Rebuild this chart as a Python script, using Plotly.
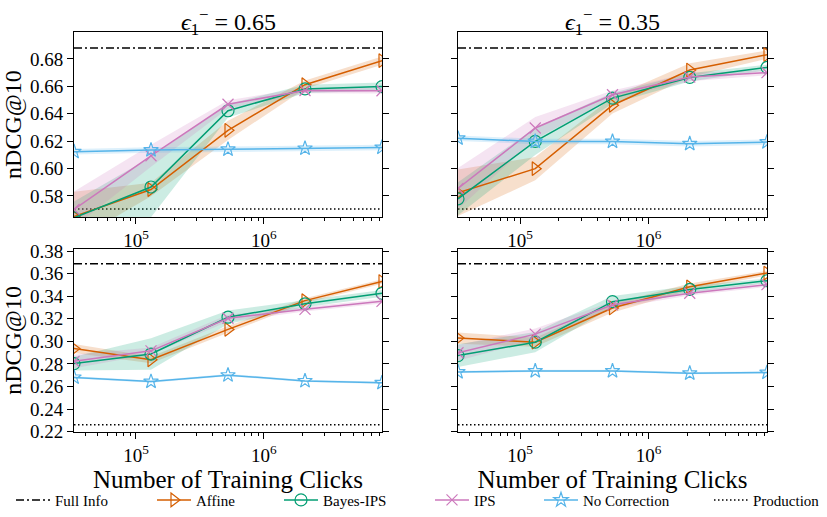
import math
import plotly.graph_objects as go

# ---------------- data ----------------
clicks = [32768, 131072, 524288, 2097152, 8388608]
x_ticks = [1e5, 1e6]
x_tick_text = ["10<sup>5</sup>", "10<sup>6</sup>"]

methods = ["Affine", "Bayes-IPS", "IPS", "No Correction"]

full_info_top = 0.688
production_top = 0.5705
full_info_bottom = 0.3688
production_bottom = 0.2262

# top-left: eps = 0.65
tl_affine = [0.5650, 0.5847, 0.6279, 0.6612, 0.6788]
tl_bayes = [0.5640, 0.5865, 0.6422, 0.6581, 0.6598]
tl_ips = [0.5702, 0.6093, 0.6469, 0.6570, 0.6568]
tl_nocorr = [0.6123, 0.6135, 0.6140, 0.6147, 0.6154]
tl_affine_sd = [0.018, 0.005, 0.007, 0.003, 0.003]
tl_bayes_sd = [0.012, 0.022, 0.005, 0.003, 0.003]
tl_ips_sd = [0.013, 0.008, 0.003, 0.002, 0.002]
tl_nocorr_sd = [0.002, 0.002, 0.002, 0.002, 0.002]

# top-right: eps = 0.35
tr_affine = [0.5823, 0.5999, 0.6462, 0.6719, 0.6831]
tr_bayes = [0.5779, 0.6198, 0.6514, 0.6665, 0.6738]
tr_ips = [0.5854, 0.6296, 0.6539, 0.6668, 0.6700]
tr_nocorr = [0.6221, 0.6198, 0.6198, 0.6181, 0.6193]
tr_affine_sd = [0.017, 0.0085, 0.006, 0.005, 0.003]
tr_bayes_sd = [0.012, 0.010, 0.004, 0.003, 0.002]
tr_ips_sd = [0.015, 0.008, 0.003, 0.003, 0.002]
tr_nocorr_sd = [0.002, 0.002, 0.002, 0.002, 0.002]

# bottom-left: eps = 0.65
bl_affine = [0.2936, 0.2837, 0.3106, 0.3361, 0.3530]
bl_bayes = [0.2803, 0.2888, 0.3214, 0.3333, 0.3426]
bl_ips = [0.2823, 0.2916, 0.3205, 0.3284, 0.3355]
bl_nocorr = [0.2681, 0.2644, 0.2701, 0.2650, 0.2633]
bl_affine_sd = [0.004, 0.003, 0.003, 0.002, 0.002]
bl_bayes_sd = [0.006, 0.014, 0.006, 0.003, 0.003]
bl_ips_sd = [0.006, 0.003, 0.003, 0.002, 0.002]
bl_nocorr_sd = [0.001, 0.001, 0.001, 0.001, 0.001]

# bottom-right: eps = 0.35
br_affine = [0.3029, 0.2993, 0.3296, 0.3483, 0.3605]
br_bayes = [0.2874, 0.2993, 0.3352, 0.3460, 0.3537]
br_ips = [0.2899, 0.3064, 0.3324, 0.3426, 0.3503]
br_nocorr = [0.2729, 0.2738, 0.2738, 0.2718, 0.2724]
br_affine_sd = [0.005, 0.004, 0.004, 0.003, 0.002]
br_bayes_sd = [0.010, 0.009, 0.005, 0.003, 0.002]
br_ips_sd = [0.007, 0.005, 0.003, 0.002, 0.002]
br_nocorr_sd = [0.001, 0.001, 0.001, 0.001, 0.001]

subplot_titles = ["<i>ϵ</i><sub>1</sub><sup>−</sup> = 0.65",
                  "<i>ϵ</i><sub>1</sub><sup>−</sup> = 0.35"]
y_title = "nDCG@10"
x_title = "Number of Training Clicks"

# ---------------- styles ----------------
FONT = "Liberation Serif, Times New Roman, serif"
colors = {"Affine": "#d55e00", "Bayes-IPS": "#029e73",
          "IPS": "#cc78bc", "No Correction": "#56b4e9"}
band_colors = {"Affine": "rgba(213,94,0,0.2)", "Bayes-IPS": "rgba(2,158,115,0.2)",
               "IPS": "rgba(204,120,188,0.2)", "No Correction": "rgba(86,180,233,0.2)"}
symbols = {"Affine": "triangle-right-open", "Bayes-IPS": "circle-open",
           "IPS": "x-thin-open", "No Correction": "star-open"}
msizes = {"Affine": 12, "Bayes-IPS": 12, "IPS": 11, "No Correction": 11}
legend_ids = {"Full Info": "legend", "Affine": "legend2", "Bayes-IPS": "legend3",
              "IPS": "legend4", "No Correction": "legend5", "Production": "legend6"}
legend_line_start_px = {"Full Info": 14, "Affine": 155, "Bayes-IPS": 282,
                        "IPS": 433, "No Correction": 542, "Production": 712}

W, H = 827, 517
col_px = [(74, 382), (458, 767)]
row_px = [(25, 218), (251, 442)]

panels = [
    (0, 0, dict(zip(methods, [tl_affine, tl_bayes, tl_ips, tl_nocorr])),
     dict(zip(methods, [tl_affine_sd, tl_bayes_sd, tl_ips_sd, tl_nocorr_sd])),
     full_info_top, production_top),
    (0, 1, dict(zip(methods, [tr_affine, tr_bayes, tr_ips, tr_nocorr])),
     dict(zip(methods, [tr_affine_sd, tr_bayes_sd, tr_ips_sd, tr_nocorr_sd])),
     full_info_top, production_top),
    (1, 0, dict(zip(methods, [bl_affine, bl_bayes, bl_ips, bl_nocorr])),
     dict(zip(methods, [bl_affine_sd, bl_bayes_sd, bl_ips_sd, bl_nocorr_sd])),
     full_info_bottom, production_bottom),
    (1, 1, dict(zip(methods, [br_affine, br_bayes, br_ips, br_nocorr])),
     dict(zip(methods, [br_affine_sd, br_bayes_sd, br_ips_sd, br_nocorr_sd])),
     full_info_bottom, production_bottom),
]

y_ranges = [[0.5645, 0.6997], [0.2197, 0.3820]]

fig = go.Figure()
layout = dict(
    width=W, height=H,
    margin=dict(l=0, r=0, t=0, b=0),
    paper_bgcolor="white", plot_bgcolor="white",
    font=dict(family=FONT, size=18, color="black"),
    showlegend=True,
)

minor_vals = [m * 10 ** e for e in range(4, 7) for m in range(2, 10)]

for idx, (r, c, series, sds, full, prod) in enumerate(panels):
    n = idx + 1
    xa = "x" if n == 1 else f"x{n}"
    ya = "y" if n == 1 else f"y{n}"
    first = idx == 0
    xr = [math.log10(clicks[0]), math.log10(clicks[-1])]
    fig.add_trace(go.Scatter(
        x=[clicks[0], clicks[-1]], y=[full, full], mode="lines",
        line=dict(color="black", width=1.5, dash="8px,3px,2px,3px"),
        name="Full Info", showlegend=first, legend=legend_ids["Full Info"],
        xaxis=xa, yaxis=ya, hoverinfo="skip"))
    fig.add_trace(go.Scatter(
        x=[clicks[0], clicks[-1]], y=[prod, prod], mode="lines",
        line=dict(color="black", width=1.5, dash="1.5px,2.5px"),
        name="Production", showlegend=first, legend=legend_ids["Production"],
        xaxis=xa, yaxis=ya, hoverinfo="skip"))
    for m in methods:
        lo = [v - s for v, s in zip(series[m], sds[m])]
        hi = [v + s for v, s in zip(series[m], sds[m])]
        fig.add_trace(go.Scatter(x=clicks, y=lo, mode="lines", line=dict(width=0),
                                 showlegend=False, xaxis=xa, yaxis=ya, hoverinfo="skip"))
        fig.add_trace(go.Scatter(x=clicks, y=hi, mode="lines", line=dict(width=0),
                                 fill="tonexty", fillcolor=band_colors[m],
                                 showlegend=False, xaxis=xa, yaxis=ya, hoverinfo="skip"))
    for m in methods:
        fig.add_trace(go.Scatter(
            x=clicks, y=series[m], mode="lines+markers", name=m,
            line=dict(color=colors[m], width=1.5),
            marker=dict(symbol=symbols[m], size=msizes[m],
                        color=colors[m], line=dict(color=colors[m], width=1.2)),
            showlegend=first, legend=legend_ids[m],
            xaxis=xa, yaxis=ya, cliponaxis=True))

    x0, x1 = col_px[c]
    y0, y1 = row_px[r]
    xkey = "xaxis" if n == 1 else f"xaxis{n}"
    ykey = "yaxis" if n == 1 else f"yaxis{n}"
    xax = dict(
        type="log", range=xr, domain=[x0 / W, x1 / W], anchor=ya,
        tickmode="array", tickvals=x_ticks, ticktext=x_tick_text,
        ticks="outside", ticklen=6, tickwidth=1, tickcolor="black",
        showline=True, linecolor="black", linewidth=1, mirror=True,
        showgrid=False, zeroline=False,
        tickfont=dict(family=FONT, size=19),
        minor=dict(tickmode="array", tickvals=minor_vals, ticks="outside",
                   ticklen=3, tickwidth=0.8, tickcolor="black", showgrid=False),
    )
    if r == 1:
        xax["title"] = dict(text=x_title, font=dict(family=FONT, size=25), standoff=0)
    yax = dict(
        range=y_ranges[r], domain=[1 - y1 / H, 1 - y0 / H], anchor=xa,
        tickmode="linear", tick0=0.0, dtick=0.02, tickformat=".2f",
        ticks="outside", ticklen=6, tickwidth=1, tickcolor="black",
        showline=True, linecolor="black", linewidth=1, mirror="ticks",
        showgrid=False, zeroline=False, showticklabels=(c == 0),
        tickfont=dict(family=FONT, size=19),
    )
    if c == 0:
        yax["title"] = dict(text=y_title, font=dict(family=FONT, size=24), standoff=3)
    layout[xkey] = xax
    layout[ykey] = yax

for name, lid in legend_ids.items():
    layout[lid] = dict(
        x=(legend_line_start_px[name] - 3) / W, xanchor="left",
        y=1 - 513 / H, yanchor="middle", orientation="h",
        bgcolor="rgba(0,0,0,0)", borderwidth=0, itemwidth=34,
        font=dict(family=FONT, size=15),
    )

annotations = []
for c, t in enumerate(subplot_titles):
    x0, x1 = col_px[c]
    annotations.append(dict(
        text=t, x=(x0 + x1) / 2 / W, y=1 - 15 / H, xref="paper", yref="paper",
        xanchor="center", yanchor="middle", showarrow=False,
        font=dict(family=FONT, size=24)))
layout["annotations"] = annotations

fig.update_layout(**layout)
fig.write_html("out.html")
